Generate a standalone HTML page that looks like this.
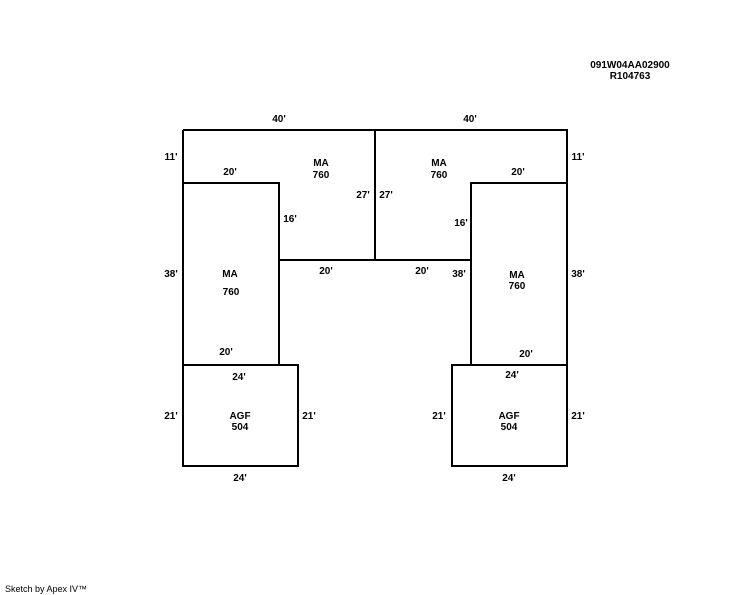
<!DOCTYPE html>
<html><head><style>
html,body{margin:0;padding:0;background:#fff;}
svg{display:block;}
text{font-family:"Liberation Sans",Arial,sans-serif;font-size:10px;font-weight:bold;fill:#000;text-anchor:middle;}
</style></head><body>
<svg width="744" height="595" viewBox="0 0 744 595">
<g stroke="#000" stroke-width="2" fill="none">
<path d="M183 130 H567 V466 H452 V365 H471 V183 H567 M471 260 H279 V365 H183 M183 130 V466 H298 V365 H279 M375 130 V260 M183 183 H279 V260 M452 365 H567"/>
</g>
<text x="630" y="68">091W04AA02900</text>
<text x="630" y="79">R104763</text>
<text x="279" y="122">40'</text>
<text x="470" y="122">40'</text>
<text x="171" y="160">11'</text>
<text x="578" y="160">11'</text>
<text x="230" y="175">20'</text>
<text x="518" y="175">20'</text>
<text x="321" y="166">MA</text>
<text x="321" y="178">760</text>
<text x="439" y="166">MA</text>
<text x="439" y="178">760</text>
<text x="363" y="198">27'</text>
<text x="386" y="198">27'</text>
<text x="290" y="222">16'</text>
<text x="461" y="226">16'</text>
<text x="326" y="274">20'</text>
<text x="422" y="274">20'</text>
<text x="459" y="277">38'</text>
<text x="171" y="277">38'</text>
<text x="578" y="277">38'</text>
<text x="230" y="277">MA</text>
<text x="231" y="295">760</text>
<text x="517" y="278">MA</text>
<text x="517" y="289">760</text>
<text x="226" y="355">20'</text>
<text x="526" y="357">20'</text>
<text x="239" y="380">24'</text>
<text x="512" y="378">24'</text>
<text x="171" y="419">21'</text>
<text x="309" y="419">21'</text>
<text x="439" y="419">21'</text>
<text x="578" y="419">21'</text>
<text x="240" y="419">AGF</text>
<text x="240" y="430">504</text>
<text x="509" y="419">AGF</text>
<text x="509" y="430">504</text>
<text x="240" y="481">24'</text>
<text x="509" y="481">24'</text>
<text x="5" y="592" style="font-weight:normal;font-size:9px;text-anchor:start">Sketch by Apex IV™</text>
</svg>
</body></html>
